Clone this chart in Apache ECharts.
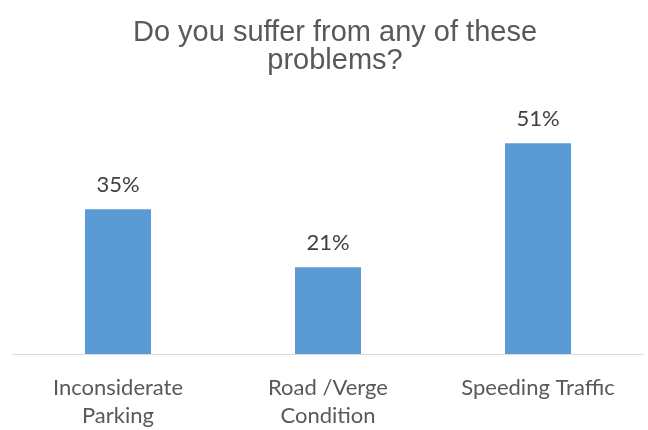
<!DOCTYPE html>
<html>
<head>
<meta charset="utf-8">
<script src="https://cdn.jsdelivr.net/npm/echarts@6/dist/echarts.min.js"></script>
<style>html,body{margin:0;padding:0;background:#fff}#c{width:648px;height:430px}</style>
</head>
<body>
<div id="c"></div>
<script>
const titleText = "Do you suffer from any of these\nproblems?";
const categories = ["Inconsiderate\nParking", "Road /Verge\nCondition", "Speeding Traffic"];
const values = [35, 21, 51];

const chart = echarts.init(document.getElementById('c'), null, {renderer: 'canvas'});
chart.setOption({
  animation: false,
  backgroundColor: '#ffffff',
  title: {
    text: titleText,
    left: 330,
    top: 14,
    textAlign: 'center',
    textStyle: {
      fontFamily: 'Liberation Sans',
      fontSize: 29,
      fontWeight: 'normal',
      lineHeight: 28,
      color: '#595959'
    }
  },
  grid: {left: 13, right: 5, top: 106, bottom: 72, containLabel: false},
  xAxis: {
    type: 'category',
    data: categories,
    axisLine: {show: true, lineStyle: {color: '#d9d9d9', width: 1}},
    axisTick: {show: false},
    axisLabel: {
      margin: 20,
      fontFamily: 'Lato',
      fontSize: 22,
      lineHeight: 28,
      color: '#595959',
      interval: 0
    }
  },
  yAxis: {
    type: 'value',
    min: 0,
    max: 60,
    show: false,
    splitLine: {show: false}
  },
  series: [{
    type: 'bar',
    data: values,
    barWidth: 66,
    itemStyle: {color: '#5B9BD5'},
    label: {
      show: true,
      position: 'top',
      distance: 13,
      formatter: '{c}%',
      fontFamily: 'Lato',
      fontSize: 22,
      color: '#404040'
    }
  }]
});
</script>
</body>
</html>
